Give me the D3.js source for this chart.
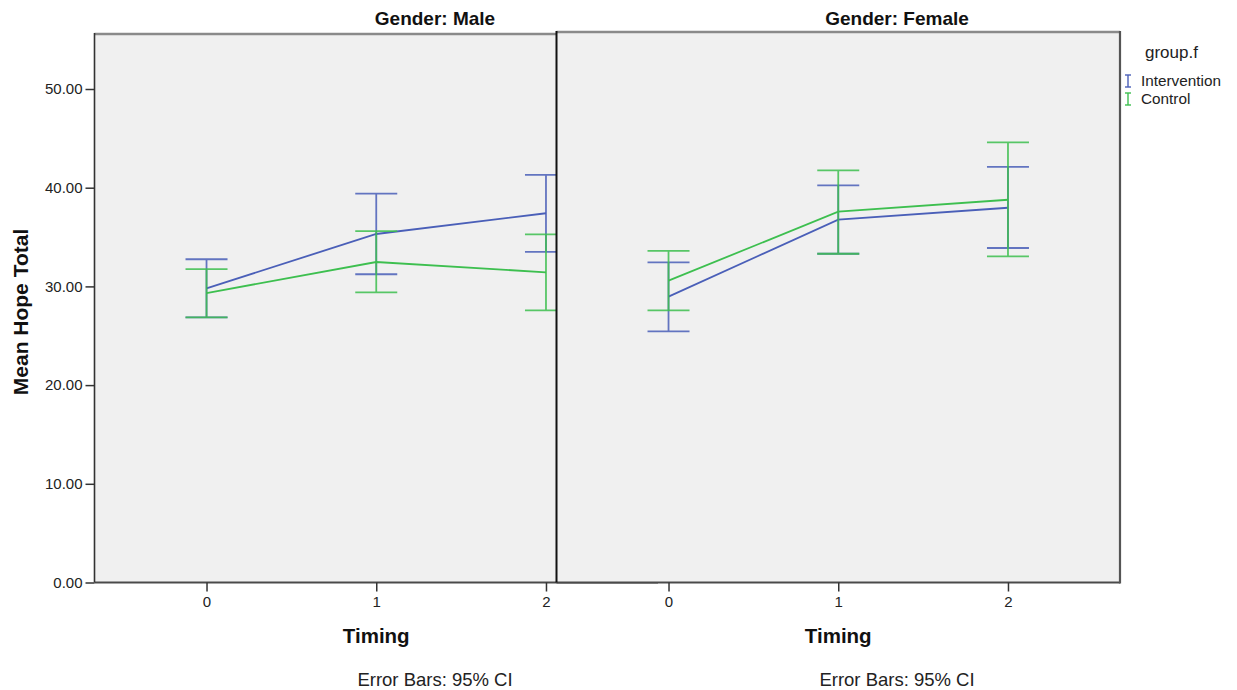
<!DOCTYPE html>
<html>
<head>
<meta charset="utf-8">
<script src="https://cdn.jsdelivr.net/npm/d3@7"></script>
<style>
  html, body { margin: 0; padding: 0; background: #ffffff; }
  svg { display: block; font-family: "Liberation Sans", Arial, sans-serif; }
</style>
</head>
<body>
<svg id="chart" width="1237" height="690"></svg>
<script>
// Mean Hope Total by timing, split by gender, with 95% confidence intervals
const timings = [0, 1, 2];
const genders = ["Male", "Female"];
const groups = ["Intervention", "Control"];
const yTicks = [0, 10, 20, 30, 40, 50];

// Means [timing 0, 1, 2]
const maleInterventionMean = [29.81, 35.31, 37.41];
const maleControlMean      = [29.33, 32.47, 31.43];
const femaleInterventionMean = [28.96, 36.76, 37.97];
const femaleControlMean      = [30.58, 37.57, 38.78];

// 95% CI lower / upper bounds
const maleInterventionLow  = [26.87, 31.23, 33.49];
const maleInterventionHigh = [32.75, 39.39, 41.29];
const maleControlLow       = [26.87, 29.40, 27.58];
const maleControlHigh      = [31.76, 35.61, 35.28];
const femaleInterventionLow  = [25.45, 33.31, 33.89];
const femaleInterventionHigh = [32.44, 40.24, 42.10];
const femaleControlLow       = [27.58, 33.31, 33.05];
const femaleControlHigh      = [33.59, 41.76, 44.60];

const colors = { Intervention: "#4a5fb8", Control: "#3dbf4f" };

const seriesByGender = {
  Male: [
    { group: "Intervention", mean: maleInterventionMean, low: maleInterventionLow, high: maleInterventionHigh },
    { group: "Control", mean: maleControlMean, low: maleControlLow, high: maleControlHigh }
  ],
  Female: [
    { group: "Intervention", mean: femaleInterventionMean, low: femaleInterventionLow, high: femaleInterventionHigh },
    { group: "Control", mean: femaleControlMean, low: femaleControlLow, high: femaleControlHigh }
  ]
};

const svg = d3.select("#chart");

// Layout
const panelWidth = 563.5;
const panelBottom = 582.5;
const panels = [
  { gender: "Male", x0: 94.5, top: 34 },
  { gender: "Female", x0: 556.5, top: 32 }
];
const capHalf = 21;

const y = d3.scaleLinear().domain([0, 50]).range([panelBottom, 89]);

panels.forEach((p, i) => {
  const g = svg.append("g");
  const x = d3.scalePoint()
    .domain(timings)
    .range([p.x0, p.x0 + panelWidth])
    .padding(0.66);

  // plot background
  g.append("rect")
    .attr("x", p.x0).attr("y", p.top)
    .attr("width", panelWidth).attr("height", panelBottom - p.top)
    .attr("fill", "#f0f0f0");

  // series: lines then error bars
  seriesByGender[p.gender].forEach(s => {
    const col = colors[s.group];
    const pts = timings.map((t, k) => ({ t, mean: s.mean[k], low: s.low[k], high: s.high[k] }));

    g.append("path")
      .datum(pts)
      .attr("fill", "none")
      .attr("stroke", col)
      .attr("stroke-width", 1.8)
      .attr("d", d3.line().x(d => x(d.t)).y(d => y(d.mean)));

    const eb = g.selectAll(null).data(pts).enter().append("g")
      .attr("stroke", col).attr("stroke-width", 1.8).attr("fill", "none")
      .attr("opacity", 0.85);
    eb.append("line")
      .attr("x1", d => x(d.t)).attr("x2", d => x(d.t))
      .attr("y1", d => y(d.low)).attr("y2", d => y(d.high));
    eb.append("line")
      .attr("x1", d => x(d.t) - capHalf).attr("x2", d => x(d.t) + capHalf)
      .attr("y1", d => y(d.high)).attr("y2", d => y(d.high));
    eb.append("line")
      .attr("x1", d => x(d.t) - capHalf).attr("x2", d => x(d.t) + capHalf)
      .attr("y1", d => y(d.low)).attr("y2", d => y(d.low));
  });

  // frame
  g.append("line")
    .attr("x1", p.x0).attr("x2", p.x0 + panelWidth)
    .attr("y1", p.top).attr("y2", p.top)
    .attr("stroke", "#8a8a8a").attr("stroke-width", 2.5);
  g.append("line")
    .attr("x1", p.x0).attr("x2", p.x0 + panelWidth)
    .attr("y1", panelBottom).attr("y2", panelBottom)
    .attr("stroke", "#4a4a4a").attr("stroke-width", 2);
  g.append("line")
    .attr("x1", p.x0).attr("x2", p.x0)
    .attr("y1", p.top - 1).attr("y2", panelBottom)
    .attr("stroke", i === 0 ? "#333333" : "#111111").attr("stroke-width", i === 0 ? 1.6 : 2);
  if (i === panels.length - 1) {
    g.append("line")
      .attr("x1", p.x0 + panelWidth).attr("x2", p.x0 + panelWidth)
      .attr("y1", p.top - 1).attr("y2", panelBottom + 1)
      .attr("stroke", "#555555").attr("stroke-width", 2.2);
  }

  // x axis
  const xAxis = g.append("g")
    .attr("transform", `translate(0,${panelBottom})`)
    .call(d3.axisBottom(x).tickSize(9).tickPadding(5));
  xAxis.select(".domain").remove();
  xAxis.selectAll(".tick line").attr("stroke", "#333").attr("stroke-width", 1.5);
  xAxis.selectAll(".tick text")
    .attr("font-family", "Liberation Sans, Arial, sans-serif")
    .attr("font-size", 15).attr("fill", "#222");

  // titles
  const titleX = p.x0 + 340.5;
  g.append("text")
    .attr("x", titleX).attr("y", 25)
    .attr("text-anchor", "middle")
    .attr("font-size", 19).attr("font-weight", "bold").attr("fill", "#111")
    .text("Gender: " + p.gender);

  g.append("text")
    .attr("x", x(1)).attr("y", 643)
    .attr("text-anchor", "middle")
    .attr("font-size", 20.5).attr("font-weight", "bold").attr("fill", "#111")
    .text("Timing");

  g.append("text")
    .attr("x", titleX).attr("y", 686)
    .attr("text-anchor", "middle")
    .attr("font-size", 18.5).attr("fill", "#222")
    .text("Error Bars: 95% CI");

  // y axis only on the first panel
  if (i === 0) {
    const yAxis = g.append("g")
      .attr("transform", `translate(${p.x0},0)`)
      .call(d3.axisLeft(y).tickValues(yTicks).tickFormat(d3.format(".2f")).tickSize(9).tickPadding(3));
    yAxis.select(".domain").remove();
    yAxis.selectAll(".tick line").attr("stroke", "#333").attr("stroke-width", 1.5);
    yAxis.selectAll(".tick text")
      .attr("font-family", "Liberation Sans, Arial, sans-serif")
      .attr("font-size", 15).attr("fill", "#222");
  }
});

// y axis title
svg.append("text")
  .attr("transform", "translate(28,312) rotate(-90)")
  .attr("text-anchor", "middle")
  .attr("font-size", 21).attr("font-weight", "bold").attr("fill", "#111")
  .text("Mean Hope Total");

// legend
const legend = svg.append("g");
legend.append("text")
  .attr("x", 1145).attr("y", 58)
  .attr("font-size", 17).attr("fill", "#222")
  .text("group.f");
groups.forEach((grp, k) => {
  const cy = 81 + k * 18;
  const col = colors[grp];
  const icon = legend.append("g").attr("stroke", col).attr("stroke-width", 1.4);
  icon.append("line").attr("x1", 1128).attr("x2", 1128).attr("y1", cy - 6).attr("y2", cy + 6);
  icon.append("line").attr("x1", 1125).attr("x2", 1131).attr("y1", cy - 6).attr("y2", cy - 6);
  icon.append("line").attr("x1", 1125).attr("x2", 1131).attr("y1", cy + 6).attr("y2", cy + 6);
  legend.append("text")
    .attr("x", 1141).attr("y", cy + 5)
    .attr("font-size", 15.3).attr("fill", "#222")
    .text(grp);
});
</script>
</body>
</html>
